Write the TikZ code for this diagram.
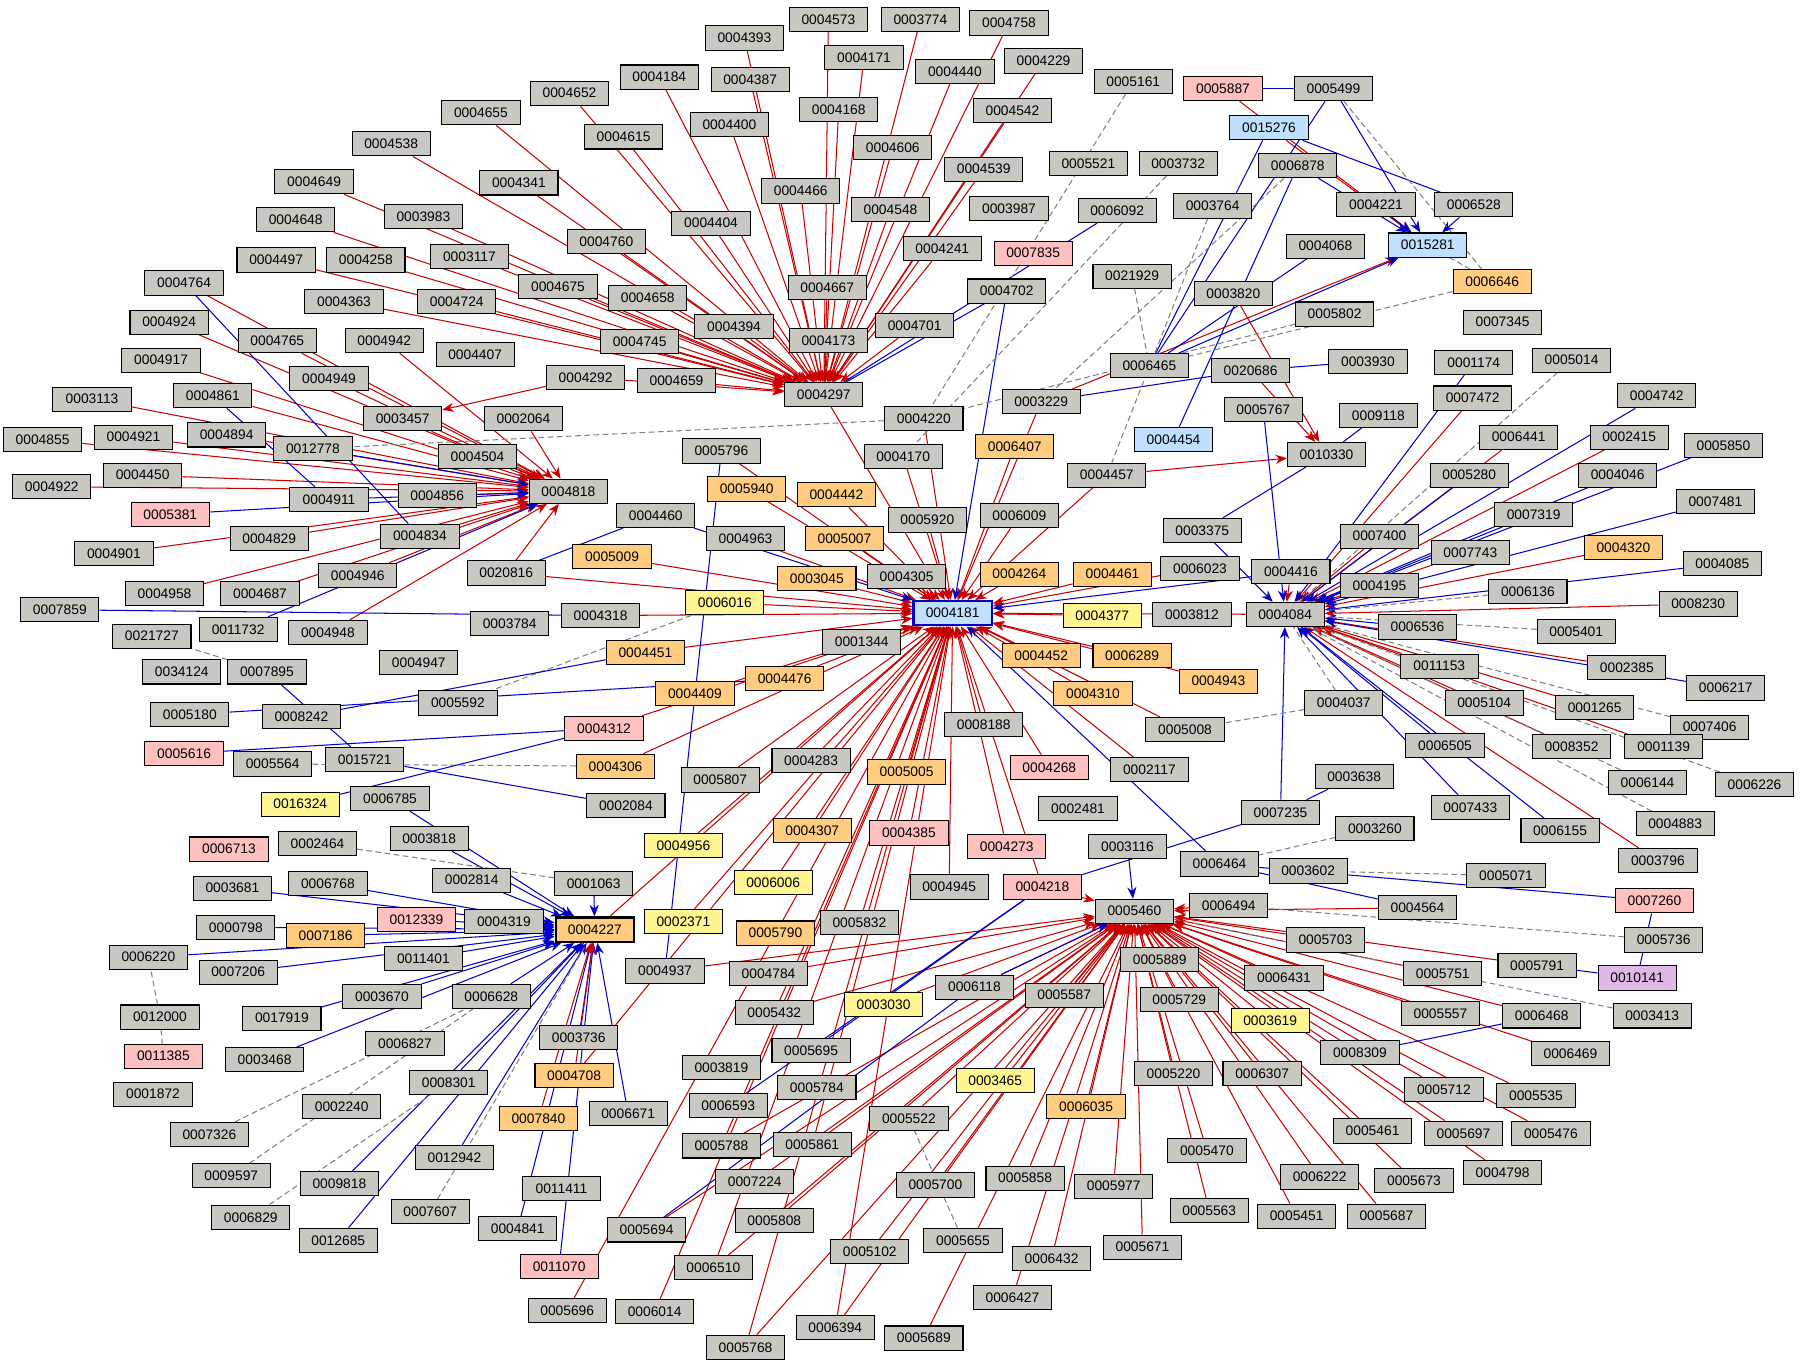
\documentclass[tikz,border=0pt]{standalone}
\usepackage{fontspec}
\setmainfont{Liberation Sans}
\usetikzlibrary{arrows.meta}
\pgfdeclarelayer{bg}\pgfsetlayers{bg,main}
\definecolor{gf}{RGB}{200,200,192}
\definecolor{pf}{RGB}{255,192,192}
\definecolor{of}{RGB}{255,204,128}
\definecolor{yf}{RGB}{255,245,145}
\definecolor{bf}{RGB}{192,224,255}
\definecolor{vf}{RGB}{224,184,232}
\definecolor{er}{RGB}{200,0,0}
\definecolor{eb}{RGB}{0,0,200}
\tikzset{
 nd/.style={draw=black,line width=0.9pt,minimum width=68pt,minimum height=21pt,inner sep=0pt,font=\fontsize{12}{14}\selectfont},
 g/.style={nd,fill=gf}, p/.style={nd,fill=pf}, o/.style={nd,fill=of},
 yy/.style={nd,fill=yf}, bb/.style={nd,fill=bf}, v/.style={nd,fill=vf},
 re/.style={er,line width=0.9pt,-{Stealth[length=10pt,width=8pt]}},
 be/.style={eb,line width=0.9pt,-{Stealth[length=10pt,width=8pt]}},
 rl/.style={er,line width=0.9pt}, bl/.style={eb,line width=0.9pt},
 de/.style={gray,line width=0.9pt,dash pattern=on 5pt off 3pt}
}
\begin{document}
\begin{tikzpicture}[x=1pt,y=-1pt]
\useasboundingbox (0,0) rectangle (1568,1192);
\foreach \n/\x/\y in {0004573/720/17,0003774/800/17,0004758/877/20,0004393/647/33,0004171/751/50,0004229/907/53,0004440/830/62,0004184/573/67,0004387/652/69,0005161/985/71,0005499/1159/77,0004652/495/81,0004168/729/95,0004542/880/96,0004655/418/98,0004400/634/108,0004615/542/119,0004606/776/128,0004538/340/125,0005521/946/142,0003732/1024/142,0006878/1128/144,0004539/855/147,0004649/273/158,0004341/451/159,0004466/696/166,0003987/877/181,0006092/971/183,0003764/1054/179,0004221/1196/178,0006528/1281/178,0004548/774/182,0003983/368/188,0004404/618/194,0004648/257/191,0004760/527/210,0004241/819/216,0004068/1152/214,0003117/408/223,0004497/240/226,0004258/318/226,0004764/160/246,0004675/485/249,0004667/719/250,0004702/875/253,0021929/984/240,0003820/1072/255,0004658/563/259,0004363/299/262,0004724/397/262,0004924/147/280,0004394/638/284,0004173/720/296,0004701/795/283,0005802/1160/273,0007345/1306/280,0004765/241/296,0004942/334/296,0004745/556/297,0004917/140/313,0004407/413/308,0006465/999/318,0020686/1087/322,0003930/1189/314,0005014/1366/313,0001174/1281/315,0004292/509/328,0004659/588/331,0004949/286/329,0004297/716/343,0003113/80/347,0004861/185/344,0003229/905/349,0005767/1098/356,0007472/1280/346,0004742/1440/344,0003457/350/364,0002064/455/364,0004220/803/364,0009118/1198/361,0006441/1320/380,0002415/1416/380,0004855/37/382,0004921/116/380,0004894/197/378,0012778/272/390,0005850/1498/387,0005796/627/392,0004504/415/397,0004170/785/397,0004457/962/413,0010330/1153/395,0005280/1277/413,0004046/1406/413,0004450/124/413,0004922/45/423,0004818/494/427,0004856/380/431,0004911/286/434,0005920/806/452,0006009/886/448,0004460/570/448,0007319/1333/447,0007481/1491/436,0004829/234/468,0004834/365/466,0004963/648/468,0003375/1045/461,0007400/1199/466,0007743/1278/480,0004901/99/481,0004085/1497/490,0004946/311/500,0020816/440/498,0004305/788/501,0006023/1043/494,0004416/1122/497,0004195/1199/509,0006136/1328/514,0004958/143/516,0004687/226/516,0003812/1036/534,0004084/1117/534,0008230/1476/525,0007859/52/530,0011732/207/547,0004948/285/550,0004318/522/535,0003784/443/542,0006536/1232/545,0005401/1370/549,0021727/132/553,0001344/749/558,0011153/1251/579,0002385/1414/580,0034124/158/584,0007895/232/584,0004947/364/576,0005592/398/611,0005180/165/621,0008242/262/623,0004037/1168/611,0005104/1290/611,0001265/1386/615,0006217/1500/598,0007406/1486/632,0008188/855/630,0005008/1030/634,0008352/1366/649,0001139/1446/649,0005564/237/664,0015721/317/660,0004283/705/661,0002117/999/669,0006505/1256/648,0006226/1525/682,0005807/626/678,0006144/1432/680,0003638/1177/675,0006785/339/694,0002084/544/700,0007433/1278/702,0004883/1456/716,0002481/937/703,0007235/1113/706,0006155/1356/722,0003260/1195/720,0003818/373/729,0002464/276/733,0003116/980/736,0003796/1441/748,0006464/1060/751,0003602/1137/757,0005071/1309/761,0006768/285/768,0002814/410/765,0001063/516/768,0004945/825/771,0003681/202/772,0004319/438/801,0005832/747/802,0005460/986/792,0006494/1068/787,0004564/1232/789,0005736/1446/817,0005703/1152/817,0000798/205/806,0006220/129/832,0011401/368/833,0005889/1008/834,0005751/1254/846,0005791/1336/839,0007206/207/845,0004937/578/844,0004784/668/846,0006431/1116/850,0012000/139/884,0003670/332/866,0006628/427/866,0006118/847/858,0005587/925/865,0005729/1025/869,0005557/1252/881,0006468/1340/883,0003413/1436/883,0017919/245/885,0005432/673/880,0003468/230/921,0006827/352/907,0003736/503/902,0005695/705/913,0008309/1182/915,0006469/1365/916,0003819/627/928,0006307/1097/933,0005220/1020/933,0005712/1255/947,0005535/1335/952,0001872/133/951,0008301/390/941,0005784/710/945,0006593/633/961,0006671/546/968,0002240/297/962,0007326/182/986,0005522/790/972,0005461/1193/983,0005697/1272/985,0005476/1348/985,0005470/1049/1000,0005788/627/996,0005861/706/995,0009597/201/1022,0012942/395/1006,0005673/1229/1026,0004798/1306/1019,0006222/1147/1023,0005858/891/1024,0005977/968/1031,0005700/813/1030,0007224/656/1027,0011411/488/1033,0009818/295/1029,0006829/218/1058,0007607/374/1053,0005563/1051/1052,0005451/1127/1057,0005687/1205/1057,0005808/673/1061,0004841/450/1068,0005694/562/1069,0012685/294/1078,0005655/837/1078,0005102/756/1088,0005671/993/1084,0006432/914/1094,0006510/620/1102,0006427/880/1128,0005696/493/1139,0006014/569/1140,0006394/726/1154,0005689/803/1163,0005768/648/1171}
 \node[g] (\n) at (\x,\y) {\n};
\foreach \n/\x/\y in {0005887/1063/77,0007835/898/220,0005381/148/447,0004312/525/633,0005616/160/655,0004268/912/667,0004385/790/724,0004273/875/736,0006713/199/738,0004218/906/771,0007260/1438/783,0012339/362/799,0011385/142/918,0011070/486/1101}
 \node[p] (\n) at (\x,\y) {\n};
\foreach \n/\x/\y in {0006646/1297/245,0006407/882/388,0005940/649/425,0004442/727/430,0005007/734/468,0004320/1411/476,0005009/532/484,0003045/710/503,0004264/886/499,0004461/967/499,0004452/905/570,0006289/984/570,0004943/1059/592,0004451/561/567,0004476/682/590,0004310/950/603,0004409/604/603,0004306/535/666,0005005/788/671,0004307/706/722,0007186/283/813,0005790/674/811,0004708/499/935,0006035/944/962,0007840/468/972}
 \node[o] (\n) at (\x,\y) {\n};
\foreach \n/\x/\y in {0006016/630/524,0004377/958/535,0016324/261/699,0004956/594/735,0006006/672/767,0002371/594/801,0003619/1104/887,0003030/768/873,0003465/865/939}
 \node[yy] (\n) at (\x,\y) {\n};
\node[bb] (0015276) at (1103,111) {0015276};
\node[bb] (0015281) at (1241,213) {0015281};
\node[bb] (0004454) at (1020,382) {0004454};
\node[v] (0010141) at (1423,850) {0010141};
\node[nd,fill=bf,draw=eb,line width=2pt] (0004181) at (828,533) {0004181};
\node[nd,fill=of,line width=2pt] (0004227) at (517,808) {0004227};
\begin{pgfonlayer}{bg}
\fill[white] (0,0) rectangle (1568,1192);
\foreach \a in {0004573,0003774,0004758,0004393,0004171,0004229,0004440,0004184,0004387,0004652,0004168,0004542,0004655,0004400,0004615,0004606,0004538,0004539,0004649,0004341,0004466,0004548,0003983,0004404,0004648,0004760,0004241,0003117,0004497,0004258,0004675,0004667,0004658,0004363,0004724,0004394,0004173,0004745,0004292,0004659,0004701}
 \draw[re] (\a) -- (0004297);
\foreach \a in {0004764,0004924,0004765,0004942,0004917,0004949,0003113,0004861,0003457,0002064,0004855,0004921,0004894,0004504,0004450,0004922,0004856,0004829,0004834,0004901,0004946,0004958,0004687,0020816,0004948}
 \draw[re] (\a) -- (0004818);
\foreach \a in {0005381,0011732,0012778,0004911}
 \draw[be] (\a) -- (0004818);
\draw[re] (0004292) -- (0003457);
\foreach \a in {0004297,0005796,0005940,0004442,0005920,0006009,0004963,0005007,0005009,0003045,0004305,0004264,0004461,0006023,0006016,0004318,0004377,0004084,0004452,0006289,0004943,0004310,0004451,0004476,0004409,0004312,0004306,0005807,0004283,0008188,0004268,0002117,0005005,0004307,0004385,0004273,0004956,0006006,0002371,0005832,0004945,0004218,0003229,0006407,0004457,0004170,0004220,0001344,0004227,0005432,0005788,0005861,0006510,0006394,0005768,0004708,0005696,0006014,0005008,0020816}
 \draw[re] (\a) -- (0004181);
\foreach \a in {0004416,0004460,0006464,0004702}
 \draw[be] (\a) -- (0004181);
\draw[bl] (0007859) -- (0004318);
\foreach \a in {0004218,0006494,0005889,0005703,0006431,0005729,0003619,0005557,0006468,0006469,0008309,0006307,0005220,0005712,0005535,0005461,0005697,0005476,0005470,0006222,0005673,0004798,0005563,0005451,0005687,0005977,0005671,0005858,0006432,0006427,0005700,0005689,0006035,0003465,0005587,0006118,0005522,0005102,0006394,0005808,0006510,0005694,0007224,0005861,0005788,0005768,0004937,0004784,0005432,0003030,0005751,0005791,0004564}
 \draw[re] (\a) -- (0005460);
\foreach \a in {0006118,0003116}
 \draw[be] (\a) -- (0005460);
\foreach \a in {0005695,0006593,0007235}
 \draw[bl] (\a) -- (0004218);
\draw[bl] (0005694) -- (0006118);
\foreach \a in {0006768,0003681,0000798,0007186,0012339,0004319,0011401,0006220,0007206,0003670,0017919,0006628,0003468,0008301,0009818,0012685,0012942,0003818,0006785,0002814,0001063,0003736,0006671,0011070,0004841}
 \draw[be] (\a) -- (0004227);
\foreach \a in {0004708,0007840}
 \draw[re] (\a) -- (0004227);
\foreach \a in {0007400,0007743,0002385,0001265,0008352,0001139,0003796,0008230,0004320,0002415,0007472,0006441,0005104,0011153,0004416}
 \draw[re] (\a) -- (0004084);
\foreach \a in {0004195,0006217,0004085,0007481,0005850,0004742,0007319,0005280,0004046,0001174,0005767,0007235,0006505,0007433,0006155,0006536,0003375}
 \draw[be] (\a) -- (0004084);
\foreach \a in {0005401,0006136,0006144,0004883,0006226,0007406,0005014,0004037}
 \draw[de] (\a) -- (0004084);
\draw[re] (0005887) -- (0015281);
\draw[re] (0015276) -- (0015281);
\draw[re] (0003229) -- (0015281);
\foreach \a in {0005499,0006528,0006878,0004221,0006465}
 \draw[be] (\a) -- (0015281);
\draw[de] (0006646) -- (0015281);
\draw[bl] (0005887) -- (0005499);
\draw[bl] (0006465) -- (0005499);
\draw[bl] (0006465) -- (0015276);
\draw[bl] (0006465) -- (0004068);
\draw[bl] (0015276) -- (0006528);
\draw[de] (0005499) -- (0006646);
\foreach \a in {0020686,0003820,0004457}
 \draw[re] (\a) -- (0010330);
\foreach \a in {0009118,0003375}
 \draw[bl] (\a) -- (0010330);
\draw[bl] (0020686) -- (0003930);
\draw[bl] (0020686) -- (0003229);
\draw[bl] (0004454) -- (0006878);
\draw[bl] (0006092) -- (0004297);
\draw[bl] (0004702) -- (0004297);
\draw[bl] (0004460) -- (0020816);
\draw[bl] (0004937) -- (0005796);
\draw[de] (0005161) -- (0004220);
\draw[de] (0004220) -- (0012778);
\draw[de] (0005802) -- (0004220);
\draw[de] (0006646) -- (0006465);
\draw[de] (0003732) -- (0004170);
\draw[de] (0006878) -- (0003229);
\draw[de] (0021929) -- (0006465);
\draw[de] (0003764) -- (0004457);
\draw[de] (0006016) -- (0005592);
\draw[de] (0004306) -- (0005564);
\draw[de] (0004037) -- (0005008);
\draw[de] (0002464) -- (0001063);
\draw[de] (0003260) -- (0006464);
\draw[de] (0005071) -- (0003602);
\draw[de] (0005736) -- (0006494);
\draw[de] (0007895) -- (0021727);
\draw[de] (0012000) -- (0006220);
\draw[de] (0012000) -- (0011385);
\draw[de] (0007326) -- (0006628);
\draw[de] (0009597) -- (0006628);
\draw[de] (0006829) -- (0008301);
\draw[de] (0007607) -- (0004227);
\draw[de] (0005655) -- (0005522);
\draw[de] (0003413) -- (0005460);
\draw[bl] (0006464) -- (0007260);
\draw[bl] (0007260) -- (0010141);
\draw[bl] (0004564) -- (0006464);
\draw[bl] (0005791) -- (0010141);
\draw[bl] (0003638) -- (0007235);
\draw[bl] (0015721) -- (0002084);
\draw[bl] (0005616) -- (0004312);
\draw[bl] (0016324) -- (0004312);
\draw[bl] (0005180) -- (0004476);
\draw[bl] (0008242) -- (0004451);
\draw[bl] (0007895) -- (0015721);
\draw[bl] (0008309) -- (0006468);
\draw[bl] (0004861) -- (0004911);
\draw[bl] (0004764) -- (0004834);
\end{pgfonlayer}
\end{tikzpicture}
\end{document}
